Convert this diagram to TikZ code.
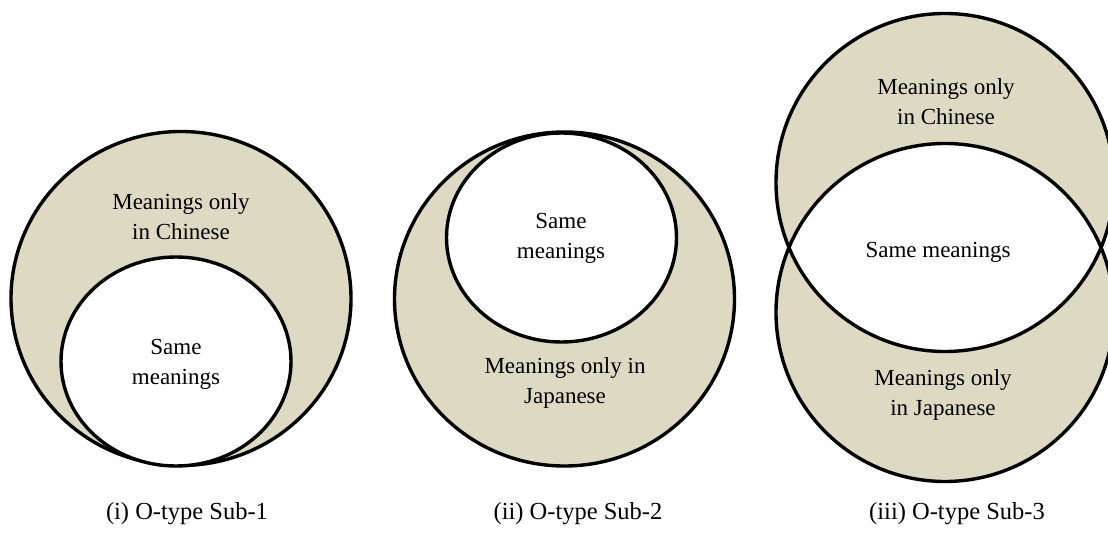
\documentclass[tikz,border=0pt]{standalone}
\usepackage{fontspec}
\setmainfont{Liberation Serif}
\definecolor{beige}{HTML}{DDD9C3}

\begin{document}
\begin{tikzpicture}[
		x=1pt, y=-1pt,
		declare function={
			outrx=170;
			outry=167;
			inrx=115;
			inry=104.5;
			bigr=169;
		},
		line width=3.4pt,
		every node/.style={font=\fontsize{23}{30}\selectfont, align=center, inner sep=0pt},
		caption/.style={font=\fontsize{24.5}{30}\selectfont},
		part/.style={fill=beige, draw=black},
		core/.style={fill=white, draw=black}
		]
		
		\clip (0,0) rectangle (1108,534);
		
		\path
		(181, 298.5) coordinate (O1)
		(176, 361.5) coordinate (S1)
		(564.5, 299) coordinate (O2)
		(561.5, 237.5) coordinate (S2)
		(945, 182.5) coordinate (C3)
		(945, 312.5) coordinate (J3)
		;
		
		% (i)
		\draw[part] (O1) ellipse [x radius=outrx, y radius=outry];
		\draw[core] (S1) ellipse [x radius=inrx, y radius=inry];
		
		% (ii)
		\draw[part] (O2) ellipse [x radius=outrx, y radius=outry];
		\draw[core] (S2) ellipse [x radius=inrx, y radius=inry];
		
		% (iii)
		\foreach \c in {C3, J3} {
			\fill[beige] (\c) circle [radius=bigr];
		}
		\begin{scope}
			\clip (C3) circle [radius=bigr];
			\fill[white] (J3) circle [radius=bigr];
		\end{scope}
		\foreach \c in {C3, J3} {
			\draw (\c) circle [radius=bigr];
		}
		
		\node (chi1) at (181, 217) {Meanings only\\in Chinese};
		\node (same1) at (176, 364) {Same\\meanings};
		\node (same2) at (561, 238) {Same\\meanings};
		\node (jap2) at (565, 383) {Meanings only in\\Japanese};
		\node (chi3) at (946, 102) {Meanings only\\in Chinese};
		\node (same3) at (938, 252) {Same meanings};
		\node (jap3) at (943, 395) {Meanings only\\in Japanese};
		
		\node[caption] (cap1) at (187, 514) {(i) O-type Sub-1};
		\node[caption] (cap2) at (578, 514) {(ii) O-type Sub-2};
		\node[caption] (cap3) at (957, 514) {(iii) O-type Sub-3};
		
	\end{tikzpicture}
\end{document}
